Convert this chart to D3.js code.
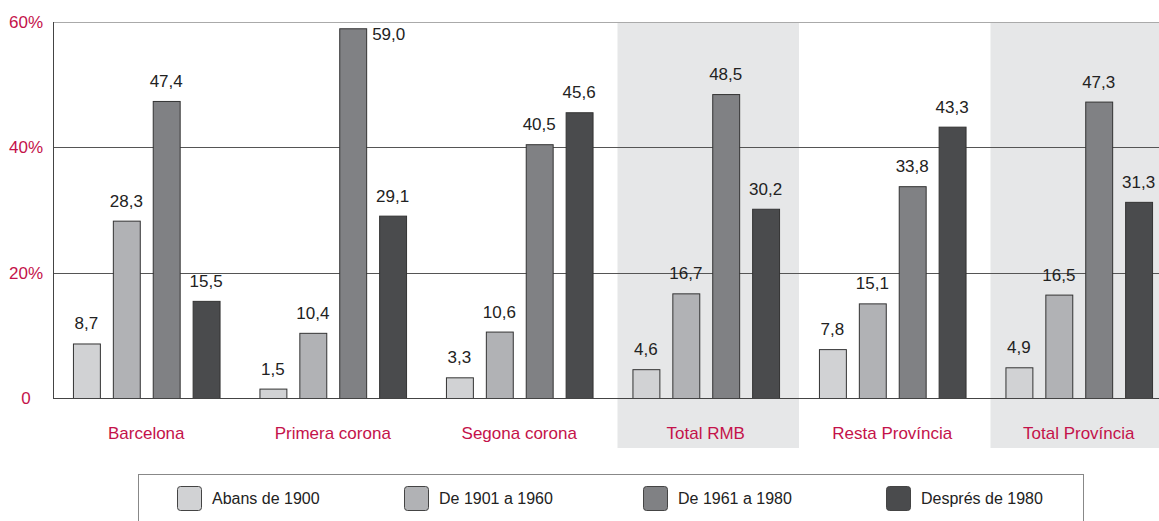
<!DOCTYPE html>
<html>
<head>
<meta charset="utf-8">
<script src="https://cdn.jsdelivr.net/npm/d3@7"></script>
<style>
  body { margin: 0; background: #fff; }
  svg { display: block; font-family: "Liberation Sans", Arial, sans-serif; }
</style>
</head>
<body>
<div id="chart"></div>
<script>
// data
const categories = ["Barcelona", "Primera corona", "Segona corona", "Total RMB", "Resta Província", "Total Província"];
const shaded = ["Total RMB", "Total Província"];
const series = ["Abans de 1900", "De 1901 a 1960", "De 1961 a 1980", "Després de 1980"];
const abans1900 = [8.7, 1.5, 3.3, 4.6, 7.8, 4.9];
const de1901 = [28.3, 10.4, 10.6, 16.7, 15.1, 16.5];
const de1961 = [47.4, 59.0, 40.5, 48.5, 33.8, 47.3];
const despres1980 = [15.5, 29.1, 45.6, 30.2, 43.3, 31.3];
const yTicks = [0, 20, 40, 60];
const colors = ["#d1d2d4", "#b1b2b5", "#808184", "#4a4b4d"];

const values = [abans1900, de1901, de1961, despres1980];
const W = 1159, H = 521;
const mLeft = 53, mTop = 22, mBottom = 398;
const red = "#c4124a";

const svg = d3.select("#chart").append("svg").attr("width", W).attr("height", H);

const x = d3.scaleBand().domain(categories).range([mLeft, mLeft + 6 * 186.5]);
const xs = d3.scaleBand().domain(series).range([0, x.bandwidth()]).paddingInner(0.325).paddingOuter(0.5);
const y = d3.scaleLinear().domain([0, 60]).range([mBottom, mTop]);

// shaded groups
svg.selectAll("rect.band").data(shaded).enter().append("rect")
  .attr("class", "band")
  .attr("x", d => x(d) + 5)
  .attr("y", mTop)
  .attr("width", x.bandwidth() - 5)
  .attr("height", 448 - mTop)
  .attr("fill", "#e6e7e8");

// grid
svg.selectAll("line.grid").data(yTicks.slice(1)).enter().append("line")
  .attr("x1", mLeft).attr("x2", W)
  .attr("y1", d => Math.round(y(d)) + 0.5).attr("y2", d => Math.round(y(d)) + 0.5)
  .attr("stroke", d => d === 60 ? "#aaaaaa" : "#555")
  .attr("stroke-width", 1);

// bars
const rows = [];
categories.forEach((c, i) => series.forEach((s, j) => rows.push({ c, s, j, v: values[j][i] })));

svg.selectAll("rect.bar").data(rows).enter().append("rect")
  .attr("x", d => x(d.c) + xs(d.s) + 0.5)
  .attr("y", d => y(d.v) + 0.5)
  .attr("width", xs.bandwidth())
  .attr("height", d => mBottom - y(d.v))
  .attr("fill", d => colors[d.j])
  .attr("stroke", "#333")
  .attr("stroke-width", 1);

// value labels (too tall -> beside the bar)
const tooTall = d => y(d.v) - 14 < 18;
svg.selectAll("text.val").data(rows).enter().append("text")
  .attr("x", d => tooTall(d) ? x(d.c) + xs(d.s) + xs.bandwidth() + 6 : x(d.c) + xs(d.s) + xs.bandwidth() / 2)
  .attr("y", d => tooTall(d) ? y(d.v) + 12 : y(d.v) - 14)
  .attr("text-anchor", d => tooTall(d) ? "start" : "middle")
  .attr("font-size", 17)
  .attr("fill", "#222")
  .text(d => d.v.toFixed(1).replace(".", ","));

// axes lines
svg.append("line").attr("x1", mLeft).attr("x2", W).attr("y1", mBottom + 0.5).attr("y2", mBottom + 0.5).attr("stroke", "#444");
svg.append("line").attr("x1", mLeft + 0.5).attr("x2", mLeft + 0.5).attr("y1", mTop).attr("y2", mBottom).attr("stroke", "#444");

// y tick labels
svg.selectAll("text.ytick").data(yTicks).enter().append("text")
  .attr("x", 26)
  .attr("y", d => y(d) + 6)
  .attr("text-anchor", "middle")
  .attr("font-size", 17)
  .attr("fill", red)
  .text(d => d === 0 ? "0" : d + "%");

// category labels
svg.selectAll("text.cat").data(categories).enter().append("text")
  .attr("x", d => x(d) + x.bandwidth() / 2)
  .attr("y", 439)
  .attr("text-anchor", "middle")
  .attr("font-size", 17)
  .attr("fill", red)
  .text(d => d);

// legend
svg.append("rect").attr("x", 138.5).attr("y", 474.5).attr("width", 945).attr("height", 80)
  .attr("fill", "none").attr("stroke", "#888");
const legX = [177, 404, 643, 886];
const leg = svg.selectAll("g.leg").data(series).enter().append("g")
  .attr("transform", (d, i) => `translate(${legX[i]},486)`);
leg.append("rect").attr("x", 0.5).attr("y", 0.5).attr("width", 24).attr("height", 24).attr("rx", 3)
  .attr("fill", (d, i) => colors[i]).attr("stroke", "#444");
leg.append("text").attr("x", 35).attr("y", 18).attr("font-size", 16).attr("fill", "#222").text(d => d);
</script>
</body>
</html>
